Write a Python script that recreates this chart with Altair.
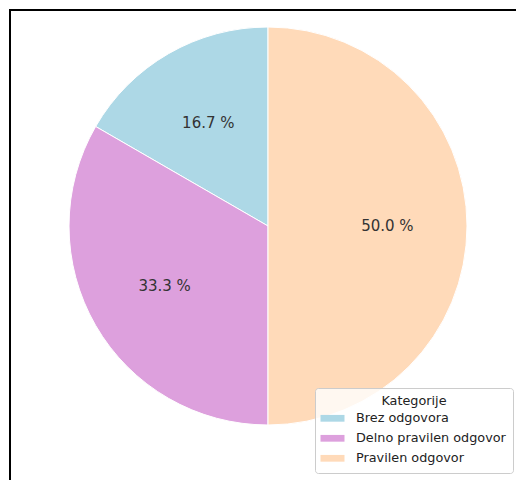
import altair as alt
import pandas as pd

categories = ["Brez odgovora", "Delno pravilen odgovor", "Pravilen odgovor"]
counts = [1, 2, 3]
pct_labels = ["16.7 %", "33.3 %", "50.0 %"]
draw_order = [3, 2, 1]
colors = ["#add8e6", "#dda0dd", "#ffdab9"]

df = pd.DataFrame({
    "Kategorija": categories,
    "count": counts,
    "label": pct_labels,
    "ord": draw_order,
})

CX, CY, R = 268, 226, 199

base = alt.Chart(df).encode(
    theta=alt.Theta("count:Q", stack=True),
    order=alt.Order("ord:Q", sort="ascending"),
)

arcs = base.mark_arc(outerRadius=R, stroke="white", strokeWidth=1).encode(
    x=alt.value(CX),
    y=alt.value(CY),
    color=alt.Color(
        "Kategorija:N",
        scale=alt.Scale(domain=categories, range=colors),
        legend=alt.Legend(
            title="Kategorije",
            orient="none",
            legendX=315,
            legendY=388,
            titleAnchor="middle",
            symbolType="M-1.6,-0.45L1.6,-0.45L1.6,0.45L-1.6,0.45Z",
            symbolSize=225,
            symbolStrokeWidth=0,
            symbolOpacity=1,
            symbolOffset=3,
            labelOffset=16,
            rowPadding=5,
            padding=7,
            strokeColor="#cccccc",
            fillColor="rgba(255,255,255,0.8)",
            cornerRadius=3,
            labelFontSize=12.8,
            titleFontSize=12.8,
            titleFontWeight="normal",
            labelFont="DejaVu Sans",
            titleFont="DejaVu Sans",
            labelColor="#222222",
            titleColor="#222222",
            titlePadding=3,
        ),
    ),
)

texts = base.mark_text(
    radius=0.6 * R, font="DejaVu Sans", fontSize=15, color="#333333"
).encode(
    x=alt.value(CX),
    y=alt.value(CY),
    text="label:N",
)

frame_top = alt.Chart(df).mark_rule(color="black", strokeWidth=2).encode(
    x=alt.value(9), x2=alt.value(516), y=alt.value(10)
)
frame_left = alt.Chart(df).mark_rule(color="black", strokeWidth=2).encode(
    x=alt.value(10), y=alt.value(9), y2=alt.value(480)
)

chart = alt.layer(frame_top, frame_left, arcs, texts).properties(
    width=516,
    height=480,
    padding=0,
    autosize=alt.AutoSizeParams(type="none"),
).configure_view(stroke=None)

chart.save("out.html", embed_options={"renderer": "svg", "actions": False})
